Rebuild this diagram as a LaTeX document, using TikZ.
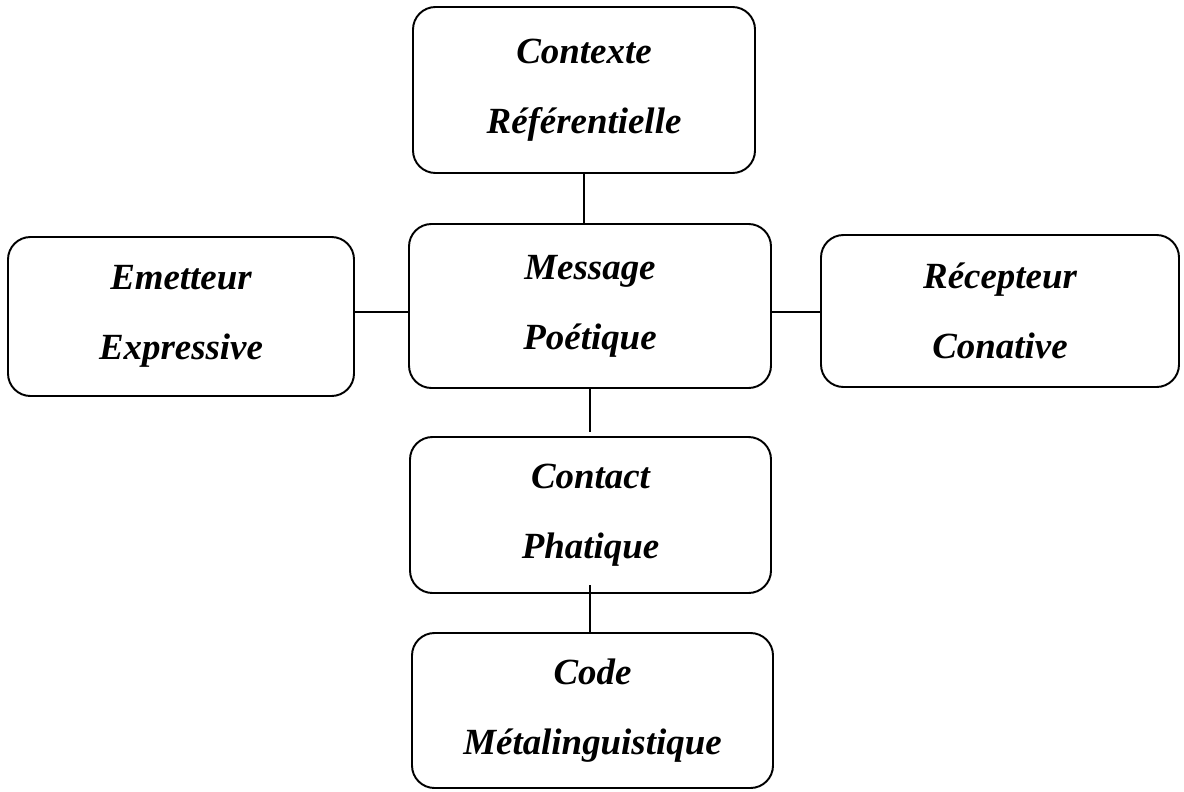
\documentclass[tikz,border=0pt]{standalone}
\usepackage{fontspec}
\setmainfont{Liberation Serif}
\usetikzlibrary{positioning}

\begin{document}
\begin{tikzpicture}[
    fnbox/.style={draw, rounded corners=0.45cm, line width=1.1pt, align=center,
        font=\fontsize{21}{40}\selectfont\bfseries\itshape},
    link/.style={line width=1.1pt},
]
\useasboundingbox (0,0) rectangle (23.68,-15.82);

\node[fnbox, minimum width=6.84cm, minimum height=3.32cm] (ctx) at (11.68, -1.80) {Contexte\\Référentielle};
\node[fnbox, minimum width=6.92cm, minimum height=3.18cm] (emt) at (3.62, -6.33) {Emetteur\\Expressive};
\node[fnbox, minimum width=7.24cm, minimum height=3.28cm] (msg) at (11.80, -6.12) {Message\\Poétique};
\node[fnbox, minimum width=7.16cm, minimum height=3.04cm] (rec) at (20.00, -6.22) {Récepteur\\Conative};
\node[fnbox, minimum width=7.22cm, minimum height=3.12cm] (cnt) at (11.81, -10.30) {Contact\\Phatique};
\node[fnbox, minimum width=7.22cm, minimum height=3.10cm] (code) at (11.85, -14.21) {Code\\Métalinguistique};

\coordinate (hline) at (0, -6.24);
\coordinate (gapA) at (11.80, -8.64);
\coordinate (gapB) at (11.80, -11.70);

\draw[link] (ctx.south) -- (ctx.south |- msg.north);
\draw[link] (emt.east |- hline) -- (msg.west |- hline);
\draw[link] (msg.east |- hline) -- (rec.west |- hline);
\draw[link] (msg.south) -- (gapA);
\draw[link] (gapB) -- (gapB |- code.north);

\end{tikzpicture}
\end{document}
